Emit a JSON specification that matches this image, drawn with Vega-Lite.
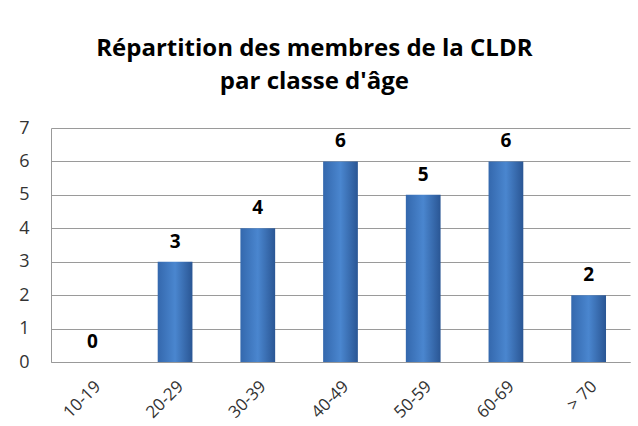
{
  "$schema": "https://vega.github.io/schema/vega-lite/v6.json",
  "width": 638,
  "height": 426,
  "autosize": {"type": "fit", "contains": "padding"},
  "padding": {"left": 18, "right": 8, "top": 37, "bottom": 5},
  "background": "white",
  "title": {
    "text": ["Répartition des membres de la CLDR", "par classe d'âge"],
    "font": "Open Sans",
    "fontSize": 24,
    "fontWeight": "bold",
    "color": "#000000",
    "lineHeight": 33,
    "anchor": "middle",
    "frame": "bounds",
    "dx": -10,
    "offset": 25
  },
  "data": {
    "values": [
      {"classe": "10-19", "n": 0},
      {"classe": "20-29", "n": 3},
      {"classe": "30-39", "n": 4},
      {"classe": "40-49", "n": 6},
      {"classe": "50-59", "n": 5},
      {"classe": "60-69", "n": 6},
      {"classe": "> 70", "n": 2}
    ]
  },
  "config": {
    "view": {"stroke": null},
    "font": "Open Sans"
  },
  "encoding": {
    "x": {
      "field": "classe",
      "type": "ordinal",
      "sort": null,
      "scale": {"paddingInner": 0.58, "paddingOuter": 0.29},
      "axis": {
        "title": null,
        "labelAngle": -45,
        "labelFontSize": 17,
        "labelColor": "#333333",
        "labelFont": "Open Sans",
        "domainColor": "#999999",
        "ticks": false,
        "labelPadding": 16
      }
    },
    "y": {
      "field": "n",
      "type": "quantitative",
      "scale": {"domain": [0, 7]},
      "axis": {
        "title": null,
        "values": [0, 1, 2, 3, 4, 5, 6, 7],
        "labelOverlap": false,
        "labelFontSize": 18,
        "labelColor": "#333333",
        "labelFont": "Open Sans",
        "labelPadding": 22,
        "gridColor": "#9a9a9a",
        "domainColor": "#999999",
        "ticks": false
      }
    }
  },
  "layer": [
    {
      "mark": {
        "type": "bar",
        "color": {
          "gradient": "linear",
          "x1": 0, "x2": 1, "y1": 0, "y2": 0,
          "stops": [
            {"offset": 0, "color": "#3468ad"},
            {"offset": 0.5, "color": "#4a86cf"},
            {"offset": 1, "color": "#2a5694"}
          ]
        }
      }
    },
    {
      "mark": {
        "type": "text",
        "dy": -20,
        "fontSize": 19,
        "fontWeight": "bold",
        "color": "#000000",
        "font": "Open Sans"
      },
      "encoding": {"text": {"field": "n", "type": "quantitative"}}
    }
  ]
}
